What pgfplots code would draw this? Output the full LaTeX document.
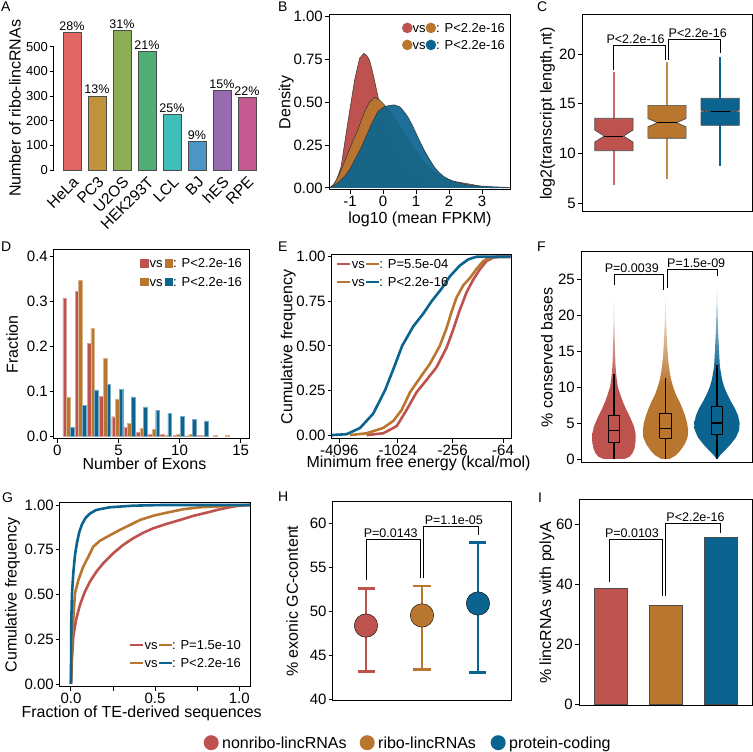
\documentclass[border=0pt]{standalone}
\usepackage{fontspec}
\setmainfont{Liberation Sans}
\usepackage{pgfplots}
\pgfplotsset{compat=1.18}

\definecolor{cR}{RGB}{189,82,78}
\definecolor{cO}{RGB}{184,118,47}
\definecolor{cB}{RGB}{11,100,144}
\definecolor{aHeLa}{RGB}{226,102,100}
\definecolor{aPC}{RGB}{192,146,62}
\definecolor{aUO}{RGB}{139,174,86}
\definecolor{aHEK}{RGB}{80,175,116}
\definecolor{aLCL}{RGB}{64,190,185}
\definecolor{aBJ}{RGB}{74,150,199}
\definecolor{ahES}{RGB}{152,106,176}
\definecolor{aRPE}{RGB}{197,90,144}

\pgfdeclareverticalshading{vR}{100bp}{color(0bp)=(cR); color(25bp)=(cR); color(47bp)=(cR); color(60bp)=(cR!55!white); color(75bp)=(white); color(100bp)=(white)}
\pgfdeclareverticalshading{vO}{100bp}{color(0bp)=(cO); color(25bp)=(cO); color(47bp)=(cO); color(60bp)=(cO!55!white); color(75bp)=(white); color(100bp)=(white)}
\pgfdeclareverticalshading{vB}{100bp}{color(0bp)=(cB); color(25bp)=(cB); color(49bp)=(cB); color(62bp)=(cB!55!white); color(75bp)=(white); color(100bp)=(white)}

\newcommand{\fs}[1]{\fontsize{#1}{#1}\selectfont}
\newcommand{\dotc}[2]{\tikz[baseline=-0.35em]\fill[#1] (0pt,0pt) circle (#2);}
\newcommand{\sq}[1]{\tikz[baseline=0pt]\fill[#1] (0pt,0pt) rectangle (8.5pt,8.5pt);}
\newcommand{\lseg}[1]{\tikz[baseline=-0.35em]\fill[#1] (0pt,-1.4pt) rectangle (13pt,1.4pt);}

\tikzset{
  pv/.style={font=\fs{12.5}, anchor=south west, inner sep=1.5pt},
  lg/.style={anchor=west, inner sep=0pt, font=\fs{13}},
}
\pgfplotsset{
  panel/.style={
    scale only axis, anchor=south west, clip=false,
    axis line style={line width=1pt, black},
    tick align=outside, tick pos=left,
    major tick length=4pt,
    every tick/.style={black, line width=0.9pt},
    tick label style={font=\fs{15}, text=black},
    label style={font=\fs{16}},
    xticklabel style={inner sep=2pt},
    yticklabel style={inner sep=2pt},
  },
  ylab/.style={ylabel style={at={(axis description cs:#1,0.5)}, anchor=center}},
  br/.style={black, line width=0.9pt},
}

\begin{document}
\begin{tikzpicture}
\path[use as bounding box] (0pt,0pt) rectangle (753pt,752pt);

% ---------------- A ----------------
\begin{axis}[panel, at={(54pt,582pt)}, width=205.5pt, height=123.3pt,
  xmin=0.28, xmax=8.5, ymin=0, ymax=500,
  axis lines*=left, axis line style={-}, x axis line style={draw=none},
  xtick={1,2,3,4,5,6,7,8}, xticklabels={HeLa,PC3,U2OS,HEK293T,LCL,BJ,hES,RPE},
  xtick style={draw=none},
  xticklabel style={rotate=45, anchor=north east, font=\fs{15.5}, inner sep=1pt},
  ytick={0,100,200,300,400,500}, yticklabels={0,100,200,300,400,500},
  yticklabel style={font=\fs{13}},
  ylabel={Number of ribo-lincRNAs}, ylab=-0.19,
  bar shift=0pt, bar width=0.72,
  every node near coord/.style={font=\fs{12.5}, anchor=south, inner sep=1.5pt, text=black},
]
\addplot[ybar, fill=aHeLa, draw=black!70, nodes near coords={28\%}] coordinates {(1,557)};
\addplot[ybar, fill=aPC, draw=black!70, nodes near coords={13\%}] coordinates {(2,301)};
\addplot[ybar, fill=aUO, draw=black!70, nodes near coords={31\%}] coordinates {(3,565)};
\addplot[ybar, fill=aHEK, draw=black!70, nodes near coords={21\%}] coordinates {(4,481)};
\addplot[ybar, fill=aLCL, draw=black!70, nodes near coords={25\%}] coordinates {(5,227)};
\addplot[ybar, fill=aBJ, draw=black!70, nodes near coords={9\%}] coordinates {(6,115)};
\addplot[ybar, fill=ahES, draw=black!70, nodes near coords={15\%}] coordinates {(7,324)};
\addplot[ybar, fill=aRPE, draw=black!70, nodes near coords={22\%}] coordinates {(8,295)};
\end{axis}

% ---------------- B ----------------
\begin{axis}[panel, at={(329pt,562pt)}, width=182pt, height=175pt,
  xmin=-1.636, xmax=3.879, ymin=-0.012, ymax=1.01,
  xtick={-1,0,1,2,3}, xticklabels={-1,0,1,2,3},
  ytick={0,0.25,0.5,0.75,1}, yticklabels={0.00,0.25,0.50,0.75,1.00},
  xlabel={log10 (mean FPKM)}, xlabel style={at={(axis description cs:0.5,-0.166)}, anchor=center},
  ylabel={Density}, ylab=-0.235]
\addplot[fill=cR, draw=black!80, line width=0.5pt] coordinates {(-1.62,0) (-1.5,0.02) (-1.4,0.05) (-1.27,0.124) (-1.17,0.25) (-1.07,0.378) (-0.96,0.51) (-0.86,0.63) (-0.71,0.757) (-0.58,0.786) (-0.5,0.775) (-0.41,0.747) (-0.33,0.69) (-0.26,0.63) (-0.16,0.54) (0,0.42) (0.2,0.32) (0.4,0.24) (0.6,0.17) (0.85,0.11) (1.2,0.06) (1.6,0.03) (2.0,0.015) (2.5,0.006) (3.0,0.002) (3.5,0)};
\addplot[fill=cO, fill opacity=0.95, draw=black!80, line width=0.5pt] coordinates {(-1.6,0) (-1.47,0.027) (-1.3,0.09) (-1.07,0.2) (-0.9,0.28) (-0.76,0.34) (-0.56,0.445) (-0.41,0.50) (-0.26,0.53) (-0.11,0.515) (0.04,0.485) (0.3,0.42) (0.6,0.33) (0.9,0.24) (1.2,0.16) (1.5,0.1) (1.8,0.06) (2.1,0.04) (2.4,0.03) (2.7,0.02) (3.0,0.008) (3.4,0.002) (3.8,0)};
\addplot[fill=cB, fill opacity=0.92, draw=black!80, line width=0.5pt] coordinates {(-1.6,0) (-1.4,0.025) (-1.17,0.066) (-1.0,0.11) (-0.86,0.163) (-0.7,0.22) (-0.56,0.28) (-0.36,0.368) (-0.16,0.445) (0.04,0.475) (0.2,0.482) (0.34,0.485) (0.5,0.475) (0.62,0.45) (0.75,0.416) (0.88,0.37) (1.0,0.32) (1.12,0.27) (1.25,0.22) (1.4,0.17) (1.55,0.124) (1.7,0.09) (1.85,0.066) (2.0,0.05) (2.16,0.037) (2.56,0.018) (3.16,0.008) (3.85,0.003) (3.879,0)};
\node[lg] at (axis description cs:0.40,0.926) {\dotc{cR}{5.3pt}vs\dotc{cO}{5.3pt}: P<2.2e-16};
\node[lg] at (axis description cs:0.40,0.829) {\dotc{cO}{5.3pt}vs\dotc{cB}{5.3pt}: P<2.2e-16};
\end{axis}

% ---------------- C ----------------
\begin{axis}[panel, at={(582pt,540pt)}, width=170pt, height=197pt,
  xmin=0.4, xmax=3.6, ymin=4.13, ymax=23.92, xtick=\empty,
  ytick={5,10,15,20}, yticklabels={5,10,15,20},
  ylabel={log2(transcript length,nt)}, ylab=-0.203]
\addplot[cR!85!white, line width=1.8pt] coordinates {(1,6.84) (1,18.23)};
\addplot[cO!85!white, line width=1.8pt] coordinates {(2,7.45) (2,19.2)};
\addplot[cB, line width=1.8pt] coordinates {(3,8.78) (3,19.67)};
\addplot[fill=cR, draw=black!70, line width=0.7pt] coordinates {(0.64,10.29) (1.36,10.29) (1.36,11.16) (1.18,11.76) (1.36,12.36) (1.36,13.54) (0.64,13.54) (0.64,12.36) (0.82,11.76) (0.64,11.16) (0.64,10.29)};
\addplot[fill=cO, draw=black!70, line width=0.7pt] coordinates {(1.64,11.53) (2.36,11.53) (2.36,12.68) (2.18,13.1) (2.36,13.52) (2.36,14.84) (1.64,14.84) (1.64,13.52) (1.82,13.1) (1.64,12.68) (1.64,11.53)};
\addplot[fill=cB, draw=black!70, line width=0.7pt] coordinates {(2.64,12.84) (3.36,12.84) (3.36,14.19) (3.18,14.27) (3.36,14.35) (3.36,15.55) (2.64,15.55) (2.64,14.35) (2.82,14.27) (2.64,14.19) (2.64,12.84)};
\addplot[black, line width=0.9pt] coordinates {(0.82,11.76) (1.18,11.76)};
\addplot[black, line width=0.9pt] coordinates {(1.82,13.1) (2.18,13.1)};
\addplot[black, line width=0.9pt] coordinates {(2.82,14.27) (3.18,14.27)};
\addplot[br] coordinates {(1,18.4) (1,20.9) (1.97,20.9) (1.97,19.4)};
\addplot[br] coordinates {(2.03,19.4) (2.03,21.47) (3,21.47) (3,20.13)};
\node[pv] at (axis cs:0.83,20.9) {P<2.2e-16};
\node[pv] at (axis cs:2.0,21.47) {P<2.2e-16};
\end{axis}

% ---------------- D ----------------
\begin{axis}[panel, at={(54pt,313pt)}, width=195pt, height=189pt,
  xmin=-0.27, xmax=15.68, ymin=-0.0067, ymax=0.415,
  xtick={0,5,10,15}, xticklabels={0,5,10,15},
  ytick={0,0.1,0.2,0.3,0.4}, yticklabels={0.0,0.1,0.2,0.3,0.4},
  xlabel={Number of Exons}, xlabel style={at={(axis description cs:0.464,-0.132)}, anchor=center},
  ylabel={Fraction}, ylab=-0.215,
  bar shift=0pt, bar width=0.3]
\addplot[ybar, fill=cR, draw=cR!55!white, line width=0.4pt] coordinates {(0.6,0.308) (1.6,0.323) (2.6,0.206) (3.6,0.0885) (4.6,0.043) (5.6,0.019) (6.6,0.008) (7.6,0.004) (8.6,0.003) (9.6,0.001) (10.6,0.0005) (11.6,0.001)};
\addplot[ybar, fill=cO, draw=cO!55!white, line width=0.4pt] coordinates {(0.9,0.087) (1.9,0.347) (2.9,0.240) (3.9,0.173) (4.9,0.083) (5.9,0.0275) (6.9,0.017) (7.9,0.015) (8.9,0.0015) (9.9,0.004) (10.9,0.004) (11.9,0.0015) (12.9,0.0015) (13.9,0.0015)};
\addplot[ybar, fill=cB, draw=cB!55!white, line width=0.4pt] coordinates {(1.2,0.020) (2.2,0.068) (3.2,0.103) (4.2,0.115) (5.2,0.104) (6.2,0.087) (7.2,0.065) (8.2,0.057) (9.2,0.050) (10.2,0.044) (11.2,0.037) (12.2,0.0335)};
\node[lg] at (axis description cs:0.441,0.93) {\sq{cR}\hspace{1pt}vs\hspace{2pt}\sq{cO}: P<2.2e-16};
\node[lg] at (axis description cs:0.441,0.832) {\sq{cO}\hspace{1pt}vs\hspace{2pt}\sq{cB}: P<2.2e-16};
\end{axis}

% ---------------- E ----------------
\begin{axis}[panel, at={(331.7pt,313pt)}, width=179.3pt, height=184pt,
  xmin=-12.28, xmax=-5.71, ymin=-0.022, ymax=1.01,
  xtick={-12,-9.86,-7.85,-6}, xticklabels={-4096,-1024,-256,-64},
  ytick={0,0.25,0.5,0.75,1}, yticklabels={0.00,0.25,0.50,0.75,1.00},
  xlabel={Minimum free energy (kcal/mol)}, xlabel style={at={(axis description cs:-0.16,-0.13)}, anchor=west},
  ylabel={Cumulative frequency}, ylab=-0.243]
\addplot[cR, line width=2.6pt] coordinates {(-11.0,0) (-10.39,0.01) (-9.90,0.05) (-9.54,0.14) (-9.17,0.24) (-8.80,0.31) (-8.44,0.38) (-8.07,0.49) (-7.83,0.59) (-7.59,0.70) (-7.34,0.80) (-7.10,0.87) (-6.85,0.93) (-6.61,0.975) (-6.37,0.995) (-6.12,1.0) (-5.72,1.0)};
\addplot[cO, line width=2.6pt] coordinates {(-11.61,0) (-11.0,0.01) (-10.39,0.04) (-10.02,0.08) (-9.72,0.14) (-9.41,0.24) (-9.05,0.32) (-8.68,0.40) (-8.32,0.50) (-8.07,0.60) (-7.89,0.69) (-7.71,0.77) (-7.46,0.84) (-7.22,0.88) (-6.98,0.93) (-6.73,0.975) (-6.49,0.995) (-6.24,1.0) (-5.72,1.0)};
\addplot[cB, line width=2.6pt] coordinates {(-12.28,0) (-11.73,0.005) (-11.24,0.04) (-10.76,0.12) (-10.33,0.25) (-10.02,0.37) (-9.70,0.50) (-9.29,0.61) (-8.93,0.68) (-8.62,0.75) (-8.26,0.82) (-7.95,0.89) (-7.59,0.95) (-7.28,0.985) (-6.98,1.0) (-5.72,1.0)};
\node[lg] at (axis description cs:0.031,0.951) {\lseg{cR}\hspace{1.5pt}vs\hspace{1.5pt}\lseg{cO}: P=5.5e-04};
\node[lg] at (axis description cs:0.031,0.853) {\lseg{cO}\hspace{1.5pt}vs\hspace{1.5pt}\lseg{cB}: P<2.2e-16};
\end{axis}

% ---------------- F ----------------
\begin{axis}[panel, at={(581pt,289pt)}, width=171pt, height=211pt,
  xmin=0.36, xmax=3.68, ymin=-0.56, ymax=28.75, xtick=\empty,
  ytick={0,5,10,15,20,25}, yticklabels={0,5,10,15,20,25},
  ylabel={\% conserved bases}, ylab=-0.2]
\addplot[shade, shading=vR, draw=none] coordinates {(1.2,0) (1.3,0.3) (1.36,0.8) (1.4,1.5) (1.42,2.5) (1.42,3.5) (1.39,4.5) (1.36,5) (1.30,6) (1.23,7) (1.17,8) (1.12,9) (1.075,10) (1.055,11) (1.04,12) (1.03,13) (1.02,15) (1.01,18) (1.005,21) (1,24) (0.995,21) (0.99,18) (0.98,15) (0.97,13) (0.96,12) (0.945,11) (0.925,10) (0.88,9) (0.83,8) (0.77,7) (0.70,6) (0.64,5) (0.61,4.5) (0.58,3.5) (0.58,2.5) (0.6,1.5) (0.64,0.8) (0.7,0.3) (0.8,0) (1.2,0)};
\addplot[shade, shading=vO, draw=none] coordinates {(2.08,0) (2.2,0.5) (2.27,1) (2.32,1.5) (2.37,2) (2.43,3) (2.44,4) (2.42,5) (2.38,6) (2.33,7) (2.27,8) (2.2,9) (2.15,10) (2.11,11) (2.085,12) (2.065,13) (2.05,14) (2.04,15) (2.025,17) (2.015,19) (2.008,21) (2,23.3) (1.992,21) (1.985,19) (1.975,17) (1.96,15) (1.95,14) (1.935,13) (1.915,12) (1.89,11) (1.85,10) (1.8,9) (1.73,8) (1.67,7) (1.62,6) (1.58,5) (1.56,4) (1.57,3) (1.63,2) (1.68,1.5) (1.73,1) (1.8,0.5) (1.92,0) (2.08,0)};
\addplot[shade, shading=vB, draw=none] coordinates {(3.01,0) (3.06,0.5) (3.13,1) (3.26,2) (3.37,3) (3.43,4) (3.44,5) (3.41,6) (3.35,7) (3.27,8) (3.2,9) (3.14,10) (3.1,11) (3.075,12) (3.055,13) (3.04,15) (3.02,18) (3.01,21) (3,25) (2.99,21) (2.98,18) (2.96,15) (2.945,13) (2.925,12) (2.9,11) (2.86,10) (2.8,9) (2.73,8) (2.65,7) (2.59,6) (2.56,5) (2.57,4) (2.63,3) (2.74,2) (2.87,1) (2.94,0.5) (2.99,0) (3.01,0)};
\addplot[black, line width=1.1pt] coordinates {(1,0) (1,2.27)};
\addplot[black, line width=1.1pt] coordinates {(1,6.0) (1,11.8)};
\addplot[black, line width=1.1pt] coordinates {(0.887,2.27) (1.113,2.27) (1.113,6.0) (0.887,6.0) (0.887,2.27)};
\addplot[black, line width=1.1pt] coordinates {(0.887,3.93) (1.113,3.93)};
\addplot[black, line width=1.1pt] coordinates {(2,0) (2,2.87)};
\addplot[black, line width=1.1pt] coordinates {(2,6.34) (2,11.3)};
\addplot[black, line width=1.1pt] coordinates {(1.887,2.87) (2.113,2.87) (2.113,6.34) (1.887,6.34) (1.887,2.87)};
\addplot[black, line width=1.1pt] coordinates {(1.887,4.26) (2.113,4.26)};
\addplot[black, line width=1.1pt] coordinates {(3,0) (3,3.43)};
\addplot[black, line width=1.1pt] coordinates {(3,7.27) (3,13.1)};
\addplot[black, line width=1.1pt] coordinates {(2.887,3.43) (3.113,3.43) (3.113,7.27) (2.887,7.27) (2.887,3.43)};
\addplot[black, line width=1.1pt] coordinates {(2.887,5.0) (3.113,5.0)};
\addplot[br] coordinates {(1,24.2) (1,25.65) (1.96,25.65) (1.96,23.5)};
\addplot[br] coordinates {(2.03,23.7) (2.03,26.3) (3,26.3) (3,25.4)};
\node[pv] at (axis cs:0.79,25.65) {P=0.0039};
\node[pv] at (axis cs:2.0,26.3) {P=1.5e-09};
\end{axis}

% ---------------- G ----------------
\begin{axis}[panel, at={(60pt,65pt)}, width=190pt, height=184pt,
  xmin=-0.065, xmax=1.064, ymin=-0.017, ymax=1.011,
  xtick={0,0.25,0.5,0.75,1}, xticklabels={0.0,,0.5,,1.0},
  ytick={0,0.25,0.5,0.75,1}, yticklabels={0.00,0.25,0.50,0.75,1.00},
  xlabel={Fraction of TE-derived sequences}, xlabel style={at={(axis description cs:0.43,-0.141)}, anchor=center},
  ylabel={Cumulative frequency}, ylab=-0.25]
\addplot[cR, line width=2.6pt] coordinates {(0,0) (0.006,0.134) (0.014,0.264) (0.03,0.357) (0.053,0.44) (0.083,0.516) (0.113,0.572) (0.152,0.628) (0.192,0.674) (0.251,0.73) (0.311,0.777) (0.37,0.814) (0.43,0.845) (0.49,0.87) (0.568,0.894) (0.648,0.916) (0.727,0.939) (0.806,0.957) (0.885,0.976) (0.964,0.991) (1.0,0.996) (1.064,1.0)};
\addplot[cO, line width=2.6pt] coordinates {(0,0) (0.004,0.15) (0.01,0.3) (0.024,0.506) (0.044,0.58) (0.073,0.655) (0.103,0.71) (0.133,0.767) (0.172,0.80) (0.23,0.83) (0.29,0.86) (0.35,0.888) (0.41,0.916) (0.49,0.94) (0.57,0.957) (0.667,0.976) (0.766,0.987) (0.925,0.994) (1.0,0.998) (1.064,1.0)};
\addplot[cB, line width=2.6pt] coordinates {(0,0) (0.002,0.35) (0.006,0.5) (0.014,0.62) (0.024,0.72) (0.036,0.79) (0.05,0.85) (0.065,0.89) (0.085,0.925) (0.11,0.95) (0.15,0.972) (0.23,0.987) (0.37,0.996) (0.55,1.0) (1.064,1.0)};
\node[lg] at (axis description cs:0.368,0.228) {\lseg{cR}\hspace{1.5pt}vs\hspace{1.5pt}\lseg{cO}: P=1.5e-10};
\node[lg] at (axis description cs:0.368,0.13) {\lseg{cO}\hspace{1.5pt}vs\hspace{1.5pt}\lseg{cB}: P<2.2e-16};
\end{axis}

% ---------------- H ----------------
\begin{axis}[panel, at={(332.7pt,51.3pt)}, width=178.3pt, height=199pt,
  xmin=0.405, xmax=3.59, ymin=39.9, ymax=62.42, xtick=\empty,
  ytick={40,45,50,55,60}, yticklabels={40,45,50,55,60},
  ylabel={\% exonic GC-content}, ylab=-0.228]
\addplot[cR, line width=2.6pt] coordinates {(1,43.2) (1,52.6)};
\addplot[cR, line width=2.6pt] coordinates {(0.848,43.2) (1.152,43.2)};
\addplot[cR, line width=2.6pt] coordinates {(0.848,52.6) (1.152,52.6)};
\addplot[cO, line width=2.6pt] coordinates {(2,43.4) (2,52.9)};
\addplot[cO, line width=2.6pt] coordinates {(1.848,43.4) (2.152,43.4)};
\addplot[cO, line width=2.6pt] coordinates {(1.848,52.9) (2.152,52.9)};
\addplot[cB, line width=2.6pt] coordinates {(3,43.1) (3,57.8)};
\addplot[cB, line width=2.6pt] coordinates {(2.848,43.1) (3.152,43.1)};
\addplot[cB, line width=2.6pt] coordinates {(2.848,57.8) (3.152,57.8)};
\addplot[only marks, mark=*, mark size=11.7pt, mark options={fill=cR, draw=none}] coordinates {(1,48.4)};
\addplot[only marks, mark=*, mark size=11.7pt, mark options={fill=cO, draw=none}] coordinates {(2,49.55)};
\addplot[only marks, mark=*, mark size=11.7pt, mark options={fill=cB, draw=none}] coordinates {(3,50.9)};
\addplot[br] coordinates {(1,53.6) (1,58.2) (1.97,58.2) (1.97,53.8)};
\addplot[br] coordinates {(2.03,53.8) (2.03,59.6) (3,59.6) (3,58.6)};
\node[pv] at (axis cs:0.93,58.2) {P=0.0143};
\node[pv] at (axis cs:2.02,59.6) {P=1.1e-05};
\end{axis}

% ---------------- I ----------------
\begin{axis}[panel, at={(579pt,46.3pt)}, width=173pt, height=205.7pt,
  xmin=0.417, xmax=3.57, ymin=-0.57, ymax=68.1, xtick=\empty,
  ytick={0,20,40,60}, yticklabels={0,20,40,60},
  ylabel={\% lincRNAs with polyA}, ylab=-0.185,
  bar shift=0pt, bar width=0.6]
\addplot[ybar, fill=cR, draw=black!70, line width=0.6pt] coordinates {(1,38.6)};
\addplot[ybar, fill=cO, draw=black!70, line width=0.6pt] coordinates {(2,32.85)};
\addplot[ybar, fill=cB, draw=black!70, line width=0.6pt] coordinates {(3,55.6)};
\addplot[br] coordinates {(0.97,40.6) (0.97,55.0) (1.94,55.0) (1.94,35.9)};
\addplot[br] coordinates {(2.0,35.9) (2.0,60.35) (3,60.35) (3,57.0)};
\node[pv] at (axis cs:0.86,55.0) {P=0.0103};
\node[pv] at (axis cs:1.98,60.35) {P<2.2e-16};
\end{axis}

% ---------------- panel letters ----------------
\begin{scope}[every node/.style={anchor=north west, inner sep=0pt, font=\fs{14}}]
\node at (1pt,750pt) {A};
\node at (278pt,750pt) {B};
\node at (537pt,750pt) {C};
\node at (1pt,510pt) {D};
\node at (278pt,510pt) {E};
\node at (537pt,510pt) {F};
\node at (2pt,259pt) {G};
\node at (278pt,260pt) {H};
\node at (538pt,259pt) {I};
\end{scope}

% ---------------- bottom legend ----------------
\begin{scope}[every node/.style={anchor=base west, inner sep=0pt, font=\fs{16}}]
\node at (203.5pt,3.7pt) {\dotc{cR}{7.5pt}\hspace{3.5pt}nonribo-lincRNAs};
\node at (359.5pt,3.7pt) {\dotc{cO}{7.5pt}\hspace{3.5pt}ribo-lincRNAs};
\node at (490.5pt,3.7pt) {\dotc{cB}{7.5pt}\hspace{3.5pt}protein-coding};
\end{scope}
\end{tikzpicture}
\end{document}
